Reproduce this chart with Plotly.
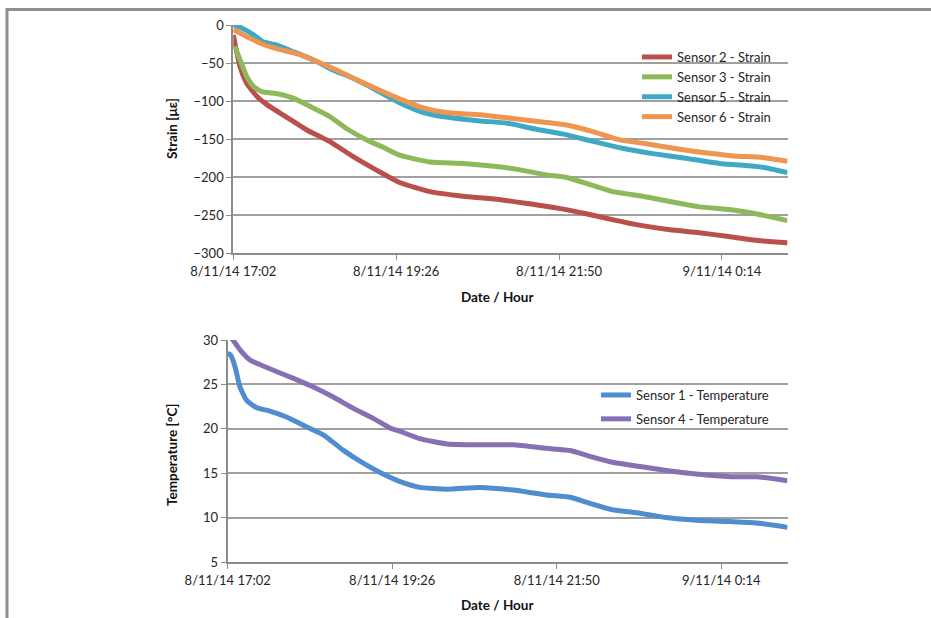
import pandas as pd
import plotly.graph_objects as go

START = "2014-11-08 17:02"

# ---- Strain data (minutes after 8/11/14 17:02, microstrain) ----
s2_t = [0, 6, 12, 21, 30, 47, 65, 85, 106, 127, 147, 174, 203, 233, 262, 288, 312, 336, 359, 386, 412, 438, 462, 490]
s2_v = [-13, -55, -77, -94, -105, -121, -138, -153, -173, -191, -207, -219, -225, -229, -235, -241, -248, -256, -263, -269, -273, -278, -283, -286]

s3_t = [1.5, 6, 12, 18, 26, 38, 53, 68, 85, 100, 118, 133, 147, 174, 203, 233, 256, 277, 294, 312, 336, 362, 386, 412, 442, 462, 490]
s3_v = [-28, -46, -68, -81, -88, -90, -96, -107, -120, -136, -151, -161, -171, -180, -182, -186, -191, -197, -200, -208, -219, -225, -232, -239, -243, -248, -257]

s5_t = [0, 6, 18, 26, 38, 53, 71, 88, 106, 127, 147, 168, 188, 218, 242, 268, 294, 318, 344, 371, 400, 430, 448, 468, 490]
s5_v = [0, -3, -13, -22, -26, -35, -46, -59, -70, -86, -102, -115, -121, -126, -129, -137, -144, -153, -162, -169, -175, -182, -184, -187, -194]

s6_t = [0, 9, 24, 38, 59, 77, 94, 112, 130, 147, 168, 188, 218, 247, 277, 297, 318, 342, 365, 389, 412, 442, 468, 490]
s6_v = [-6, -13, -24, -31, -39, -50, -61, -74, -86, -97, -109, -115, -118, -123, -128, -132, -140, -151, -156, -162, -167, -172, -174, -179]

# ---- Temperature data (minutes after 8/11/14 17:02, deg C) ----
t1_t = [0, 2.6, 6.4, 10.8, 16.6, 25, 37, 52, 66, 84, 101, 119, 136, 151, 168, 192, 221, 250, 279, 300, 317, 338, 361, 384, 410, 440, 463, 490]
t1_v = [28.5, 28.3, 27.0, 24.7, 23.2, 22.4, 22.0, 21.3, 20.4, 19.3, 17.6, 16.1, 14.9, 14.05, 13.4, 13.2, 13.4, 13.1, 12.55, 12.3, 11.6, 10.85, 10.5, 10.0, 9.7, 9.55, 9.4, 8.9]

t4_t = [0, 3.5, 10.8, 19.5, 25, 40, 57, 75, 92, 110, 127, 142, 151, 168, 192, 221, 250, 279, 300, 317, 338, 361, 384, 410, 440, 463, 490]
t4_v = [30.8, 30.2, 28.9, 27.75, 27.4, 26.6, 25.7, 24.7, 23.6, 22.3, 21.2, 20.1, 19.7, 18.9, 18.3, 18.2, 18.2, 17.8, 17.55, 16.9, 16.2, 15.75, 15.3, 14.9, 14.6, 14.6, 14.15]

# ---- Axis ticks ----
tick_minutes = [0, 144, 288, 432]
x_end_minutes = 490

strain_names = ["Sensor 2 - Strain", "Sensor 3 - Strain", "Sensor 5 - Strain", "Sensor 6 - Strain"]
strain_colors = ["#B9504C", "#8DB95A", "#3FA9C5", "#EE9550"]
temp_names = ["Sensor 1 - Temperature", "Sensor 4 - Temperature"]
temp_colors = ["#4E8DCF", "#8570B4"]

base = pd.Timestamp(START)


def to_time(mins):
    return [base + pd.Timedelta(minutes=m) for m in mins]


fig = go.Figure()

for (tt, vv), name, col in zip([(s2_t, s2_v), (s3_t, s3_v), (s5_t, s5_v), (s6_t, s6_v)], strain_names, strain_colors):
    fig.add_trace(go.Scatter(x=to_time(tt), y=vv, name=name, mode="lines",
                             line=dict(color=col, width=5, shape="spline", smoothing=0.5),
                             xaxis="x", yaxis="y", legend="legend", legendgroup=name))

for (tt, vv), name, col in zip([(t1_t, t1_v), (t4_t, t4_v)], temp_names, temp_colors):
    fig.add_trace(go.Scatter(x=to_time(tt), y=vv, name=name, mode="lines",
                             line=dict(color=col, width=5, shape="spline", smoothing=0.5),
                             xaxis="x2", yaxis="y2", legend="legend2", legendgroup=name))

W, H = 931, 618
FONT = "Lato, 'Open Sans', sans-serif"
tick_font = dict(family=FONT, size=13, color="#262626")
grid = "#A0A0A0"
axline = "#8C8C8C"

xrange_ = [base, base + pd.Timedelta(minutes=x_end_minutes)]
tickvals = to_time(tick_minutes)

xcommon = dict(type="date", range=xrange_, tickvals=tickvals, tickformat="%-d/%-m/%y %-H:%M",
               showgrid=False, showline=True, linecolor=axline, linewidth=2,
               ticks="outside", ticklen=5, tickcolor=axline, tickwidth=1,
               tickfont=tick_font, automargin=False, zeroline=False)
ycommon = dict(showgrid=True, gridcolor=grid, gridwidth=1.5, showline=True, linecolor=axline,
               linewidth=2, ticks="outside", ticklen=5, tickcolor=axline, tickwidth=1,
               tickfont=tick_font, automargin=False, zeroline=False)

leg_font = dict(family=FONT, size=13, color="#262626")

fig.update_layout(
    width=W, height=H,
    margin=dict(l=0, r=0, t=0, b=0),
    paper_bgcolor="white", plot_bgcolor="white",
    font=dict(family=FONT, size=13, color="#262626"),
    xaxis=dict(domain=[233.3 / W, 787.5 / W], anchor="y", **xcommon),
    yaxis=dict(domain=[1 - 253.3 / H, 1 - 25 / H], anchor="x", range=[-300, 0], dtick=50, **ycommon),
    xaxis2=dict(domain=[227.7 / W, 787.5 / W], anchor="y2", **xcommon),
    yaxis2=dict(domain=[1 - 562 / H, 1 - 340 / H], anchor="x2", range=[5, 30], dtick=5, **ycommon),
    legend=dict(x=637 / W, y=1 - 42 / H, xanchor="left", yanchor="top", bgcolor="rgba(0,0,0,0)",
                font=leg_font, tracegroupgap=0),
    legend2=dict(x=596 / W, y=1 - 380 / H, xanchor="left", yanchor="top", bgcolor="rgba(0,0,0,0)",
                 font=leg_font, tracegroupgap=4),
    showlegend=True,
)

title_font = dict(family=FONT, size=13.5, color="#111111")
annots = [
    dict(text="<b>Date / Hour</b>", x=497 / W, y=1 - 297 / H),
    dict(text="<b>Date / Hour</b>", x=497 / W, y=1 - 605 / H),
    dict(text="<b>Strain [με]</b>", x=172 / W, y=1 - 129 / H, textangle=-90),
    dict(text="<b>Temperature [°C]</b>", x=172 / W, y=1 - 455 / H, textangle=-90),
]
for a in annots:
    fig.add_annotation(xref="paper", yref="paper", showarrow=False, xanchor="center", yanchor="middle",
                       font=title_font, **a)

# outer chart frame
fig.add_shape(type="rect", xref="paper", yref="paper", x0=7 / W, x1=(W + 20) / W,
              y0=-20 / H, y1=1 - 9.5 / H, line=dict(color="#8F8F8F", width=3), layer="below")

fig.write_html("out.html", config={"displayModeBar": False},
               post_script="document.body.style.margin='0';document.body.style.overflow='hidden';")
